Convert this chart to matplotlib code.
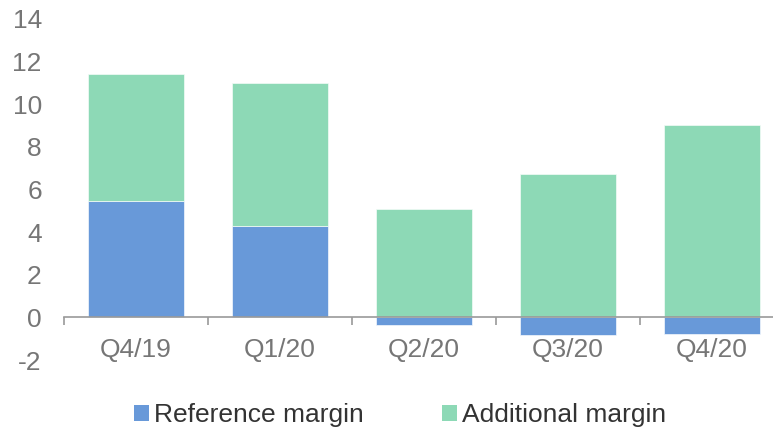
import matplotlib
matplotlib.use("Agg")
import matplotlib.pyplot as plt
import numpy as np
from matplotlib.patches import Patch

categories = ["Q4/19", "Q1/20", "Q2/20", "Q3/20", "Q4/20"]
reference_margin = [5.47, 4.28, -0.37, -0.85, -0.76]
additional_margin = [5.95, 6.73, 5.09, 6.72, 9.03]
yticks = [-2, 0, 2, 4, 6, 8, 10, 12, 14]

blue = "#6899D9"
green = "#8DD9B6"

plt.rcParams['font.family'] = ['Liberation Sans', 'DejaVu Sans']

fig = plt.figure(figsize=(7.73, 4.33), dpi=100)
ax = fig.add_axes([64/773, 1-360/433, 720/773, (360-19)/433])

x = np.arange(len(categories))
ref = np.array(reference_margin)
add = np.array(additional_margin)
ax.bar(x, ref, width=0.66, color=blue, edgecolor="#f4f8fd", linewidth=0.5, zorder=2)
ax.bar(x, add, width=0.66, bottom=np.maximum(ref, 0), color=green,
       edgecolor="#f4fbf8", linewidth=0.5, zorder=2)

ax.set_xlim(-0.5, len(categories) - 0.5)
ax.set_ylim(-2, 14)
ax.set_yticks(yticks)
ax.set_yticklabels([str(v) for v in yticks])

for s in ["top", "right", "left"]:
    ax.spines[s].set_visible(False)
ax.spines["bottom"].set_position(("data", 0))
ax.spines["bottom"].set_color("#9a9a9a")
ax.spines["bottom"].set_linewidth(1.2)
ax.spines["bottom"].set_zorder(3)

ax.set_xticks(x)
ax.set_xticklabels(categories)
ax.set_xticks(np.arange(len(categories) + 1) - 0.5, minor=True)
ax.tick_params(axis="x", which="major", length=0, pad=15, labelsize=19, labelcolor="#767676")
ax.tick_params(axis="x", which="minor", length=6, width=1.2, color="#9a9a9a", direction="out")
ax.tick_params(axis="y", length=0, pad=16, labelsize=19, labelcolor="#767676")

handles = [Patch(facecolor=blue, label="Reference margin"),
           Patch(facecolor=green, label="Additional margin")]
leg = fig.legend(handles=handles, loc="center", bbox_to_anchor=(400/773, 1-415/433),
                 ncol=2, frameon=False, fontsize=19, handlelength=0.57, handleheight=0.57,
                 handletextpad=0.2, columnspacing=2.95)
for t in leg.get_texts():
    t.set_color("#333333")

fig.savefig("out.png", dpi=100)
